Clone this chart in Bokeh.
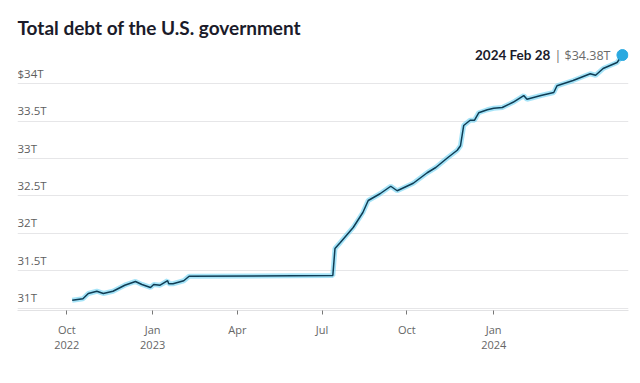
import pandas as pd
from bokeh.plotting import figure
from bokeh.models import Range1d, FixedTicker, ColumnDataSource
from bokeh.core.properties import value
from bokeh.embed import file_html
from bokeh.resources import INLINE

# ---- data ----
dates = [
    "2022-10-03", "2022-10-13", "2022-10-18", "2022-10-26", "2022-11-01", "2022-11-10",
    "2022-11-21", "2022-12-01", "2022-12-07", "2022-12-15", "2022-12-18", "2022-12-24",
    "2022-12-31", "2023-01-01", "2023-01-05", "2023-01-15", "2023-01-20", "2023-06-03",
    "2023-06-05", "2023-06-10", "2023-06-22", "2023-07-01", "2023-07-06", "2023-07-17",
    "2023-07-27", "2023-08-02", "2023-08-17", "2023-08-30", "2023-09-07", "2023-09-18",
    "2023-09-27", "2023-09-30", "2023-10-03", "2023-10-09", "2023-10-13", "2023-10-17",
    "2023-10-25", "2023-10-31", "2023-11-08", "2023-11-18", "2023-11-28", "2023-12-01",
    "2023-12-14", "2023-12-26", "2023-12-29", "2024-01-13", "2024-01-29", "2024-02-03",
    "2024-02-10", "2024-02-23", "2024-02-28",
]
debt_trillions = [
    31.11, 31.13, 31.20, 31.23, 31.20, 31.23,
    31.31, 31.36, 31.32, 31.28, 31.32, 31.31,
    31.37, 31.33, 31.33, 31.37, 31.43, 31.44,
    31.80, 31.88, 32.08, 32.28, 32.44, 32.53,
    32.63, 32.57, 32.67, 32.81, 32.88, 33.01,
    33.11, 33.17, 33.44, 33.51, 33.51, 33.61,
    33.65, 33.67, 33.68, 33.75, 33.84, 33.79,
    33.84, 33.88, 33.97, 34.04, 34.13, 34.11,
    34.20, 34.28, 34.38,
]
y_ticks = [31.0, 31.5, 32.0, 32.5, 33.0, 33.5, 34.0]
y_tick_labels = ["31T", "31.5T", "32T", "32.5T", "33T", "33.5T", "$34T"]
x_tick_dates = ["2022-09-28", "2022-12-17", "2023-03-06", "2023-05-24", "2023-08-11", "2023-10-31"]
x_tick_labels = ["Oct\n2022", "Jan\n2023", "Apr", "Jul", "Oct", "Jan\n2024"]
last_date_label = "2024 Feb 28"
last_value_label = "| $34.38T"
title_text = "Total debt of the U.S. government"

x = pd.to_datetime(dates)
x_start = pd.Timestamp("2022-08-13")
x_end = pd.Timestamp("2024-03-04 16:00")
y_bottom, y_top = 30.973, 34.507

p = figure(width=632, height=375, x_axis_type="datetime", y_axis_location=None,
           output_backend="svg", toolbar_location=None,
           x_range=Range1d(x_start, x_end), y_range=Range1d(y_bottom, y_top),
           min_border_left=17, min_border_right=4, min_border_top=45, min_border_bottom=65)
p.outline_line_color = None
p.background_fill_color = "white"
p.border_fill_color = "white"
p.xgrid.visible = False

p.title.text = title_text
p.title.text_font = "Lato"
p.title.text_font_size = "19px"
p.title.text_font_style = "bold"
p.title.text_color = "#1b1b2a"
p.title.align = "left"
p.title.vertical_align = "top"
p.title.standoff = 10

p.ygrid.ticker = FixedTicker(ticks=y_ticks)
p.ygrid.grid_line_color = "#e6e6e8"
p.ygrid.grid_line_width = 1

# y labels drawn above their gridlines at the left edge
ysrc = ColumnDataSource(dict(x=[x_start] * len(y_ticks), y=y_ticks, t=y_tick_labels))
p.text(x="x", y="y", text="t", source=ysrc, text_align="left", text_baseline="bottom",
       y_offset=-3, text_font=value("Open Sans"), text_font_size="11.5px", text_color="#5e5e5e")

# x axis
tick_ms = [float(pd.Timestamp(d).value // 10**6) for d in x_tick_dates]
ax = p.xaxis[0]
ax.ticker = FixedTicker(ticks=tick_ms)
ax.major_label_overrides = {t: l for t, l in zip(tick_ms, x_tick_labels)}
ax.axis_line_color = "#e2e2e4"
ax.major_tick_line_color = "#777777"
ax.major_tick_out = 4
ax.major_tick_in = 0
ax.minor_tick_line_color = None
ax.major_label_text_font = "Open Sans"
ax.major_label_text_font_size = "11px"
ax.major_label_text_color = "#666666"
ax.major_label_text_line_height = 1.0
ax.major_label_standoff = 7

src = ColumnDataSource(dict(x=x, y=debt_trillions))
p.line("x", "y", source=src, line_color="#5ccdf2", line_width=5, line_alpha=0.55)
p.line("x", "y", source=src, line_color="#0f3d55", line_width=1.5)

p.scatter([x[-1]], [debt_trillions[-1]], size=11, color="#2aa9e0", line_color="#2aa9e0")
p.text([x[-1]], [debt_trillions[-1]], text=[last_value_label], text_align="right",
       text_baseline="middle", x_offset=-12, text_font=value("Open Sans"),
       text_font_size="12.5px", text_color="#6a6a6a")
p.text([x[-1]], [debt_trillions[-1]], text=[last_date_label], text_align="right",
       text_baseline="middle", x_offset=-72, text_font=value("Lato"),
       text_font_size="13.5px", text_font_style="bold", text_color="#1b1b2a")

open("out.html", "w").write(file_html(p, INLINE))
